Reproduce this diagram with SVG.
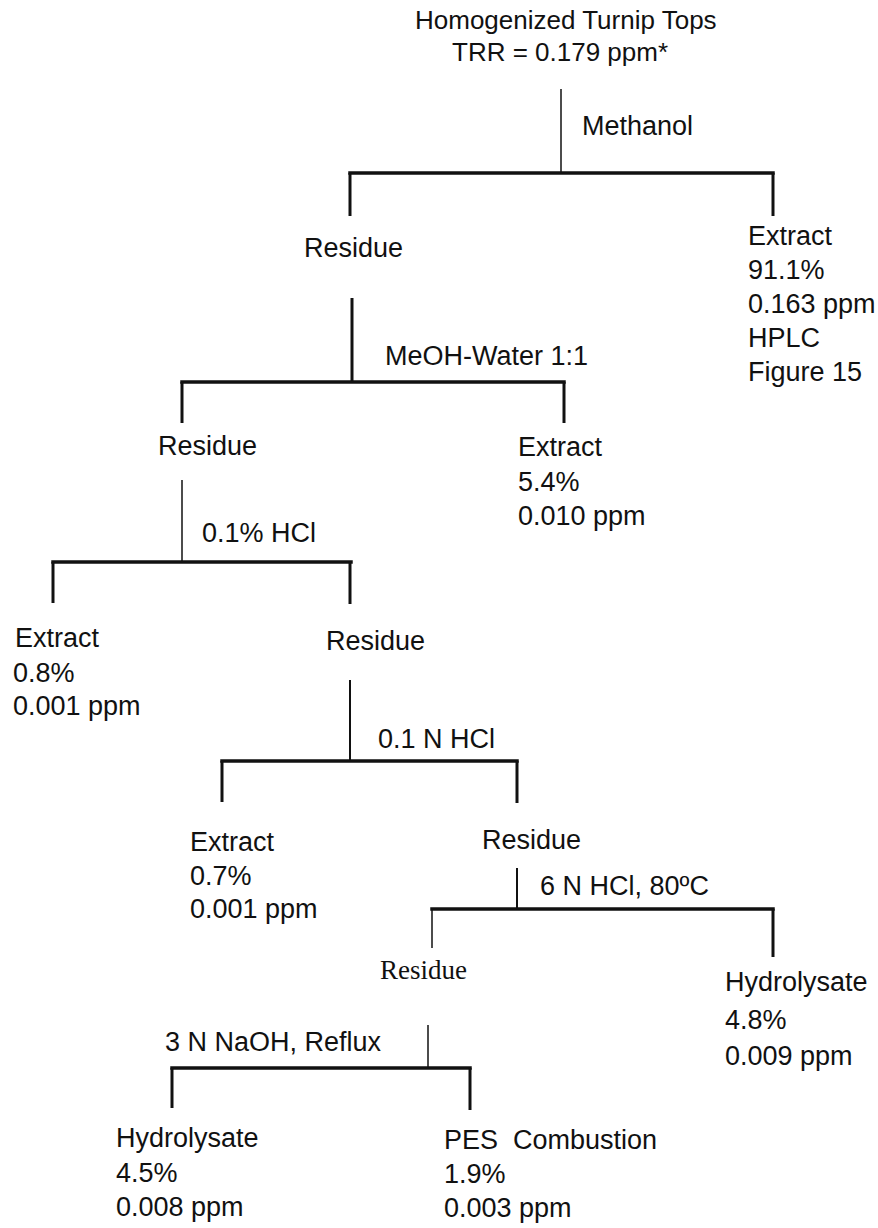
<svg xmlns="http://www.w3.org/2000/svg" width="878" height="1228" viewBox="0 0 878 1228">
<style>
text{font-family:"Liberation Sans",Arial,sans-serif;font-size:27px;fill:#111}
.title{font-size:26px}
.serif{font-family:"Liberation Serif","Times New Roman",serif;font-size:27px}
.bar{stroke:#111;stroke-width:3.5;fill:none;stroke-linecap:square}
.drop{stroke:#111;stroke-width:3;fill:none}
.stem{stroke:#111;stroke-width:2;fill:none}
.thin{stroke:#111;stroke-width:1.5;fill:none}
</style>
<rect width="878" height="1228" fill="#fff"/>
<g id="connectors">
  <line class="thin" x1="561" y1="89" x2="561" y2="173"/>
  <line class="bar" x1="350" y1="173" x2="773" y2="173"/>
  <line class="drop" x1="350" y1="173" x2="350" y2="216"/>
  <line class="drop" x1="773" y1="173" x2="773" y2="216"/>

  <line class="drop" x1="352" y1="298" x2="352" y2="382"/>
  <line class="bar" x1="182" y1="382" x2="564" y2="382"/>
  <line class="drop" x1="182" y1="382" x2="182" y2="423"/>
  <line class="drop" x1="564" y1="382" x2="564" y2="423"/>

  <line class="thin" x1="182" y1="480" x2="182" y2="562"/>
  <line class="bar" x1="53" y1="562" x2="351" y2="562"/>
  <line class="drop" x1="53" y1="562" x2="53" y2="603"/>
  <line class="drop" x1="350" y1="562" x2="350" y2="604"/>

  <line class="stem" x1="350" y1="680" x2="350" y2="761"/>
  <line class="bar" x1="222" y1="761" x2="517" y2="761"/>
  <line class="drop" x1="222" y1="761" x2="222" y2="802"/>
  <line class="drop" x1="517" y1="761" x2="517" y2="803"/>

  <line class="stem" x1="517" y1="868" x2="517" y2="909"/>
  <line class="bar" x1="432" y1="909" x2="773" y2="909"/>
  <line class="thin" x1="432" y1="909" x2="432" y2="948"/>
  <line class="drop" x1="773" y1="909" x2="773" y2="957"/>

  <line class="thin" x1="428" y1="1025" x2="428" y2="1068"/>
  <line class="bar" x1="172" y1="1068" x2="470" y2="1068"/>
  <line class="drop" x1="172" y1="1068" x2="172" y2="1108"/>
  <line class="drop" x1="470" y1="1068" x2="470" y2="1110"/>
</g>
<g id="labels">
  <text x="582" y="135">Methanol</text>
  <text x="385" y="365">MeOH-Water 1:1</text>
  <text x="202" y="542">0.1% HCl</text>
  <text x="378" y="748">0.1 N HCl</text>
  <text x="540" y="895">6 N HCl, 80ºC</text>
  <text x="165" y="1051">3 N NaOH, Reflux</text>
</g>
<g id="root">
  <text class="title" x="415" y="29">Homogenized Turnip Tops</text>
  <text class="title" x="452" y="61">TRR = 0.179 ppm*</text>
</g>
<g id="residue1"><text x="304" y="257">Residue</text></g>
<g id="extract1">
  <text x="748" y="245">Extract</text>
  <text x="748" y="279">91.1%</text>
  <text x="748" y="313">0.163 ppm</text>
  <text x="748" y="347">HPLC</text>
  <text x="748" y="381">Figure 15</text>
</g>
<g id="residue2"><text x="158" y="455">Residue</text></g>
<g id="extract2">
  <text x="518" y="456">Extract</text>
  <text x="518" y="491">5.4%</text>
  <text x="518" y="525">0.010 ppm</text>
</g>
<g id="extract3">
  <text x="15" y="647">Extract</text>
  <text x="13" y="682">0.8%</text>
  <text x="13" y="715">0.001 ppm</text>
</g>
<g id="residue3"><text x="326" y="650">Residue</text></g>
<g id="extract4">
  <text x="190" y="851">Extract</text>
  <text x="190" y="885">0.7%</text>
  <text x="190" y="918">0.001 ppm</text>
</g>
<g id="residue4"><text x="482" y="849">Residue</text></g>
<g id="residue5"><text class="serif" x="380" y="979">Residue</text></g>
<g id="hydrolysate1">
  <text x="725" y="991">Hydrolysate</text>
  <text x="725" y="1029">4.8%</text>
  <text x="725" y="1065">0.009 ppm</text>
</g>
<g id="hydrolysate2">
  <text x="116" y="1147">Hydrolysate</text>
  <text x="116" y="1182">4.5%</text>
  <text x="116" y="1216">0.008 ppm</text>
</g>
<g id="pes">
  <text x="444" y="1149" xml:space="preserve">PES  Combustion</text>
  <text x="444" y="1183">1.9%</text>
  <text x="444" y="1217">0.003 ppm</text>
</g>
</svg>
